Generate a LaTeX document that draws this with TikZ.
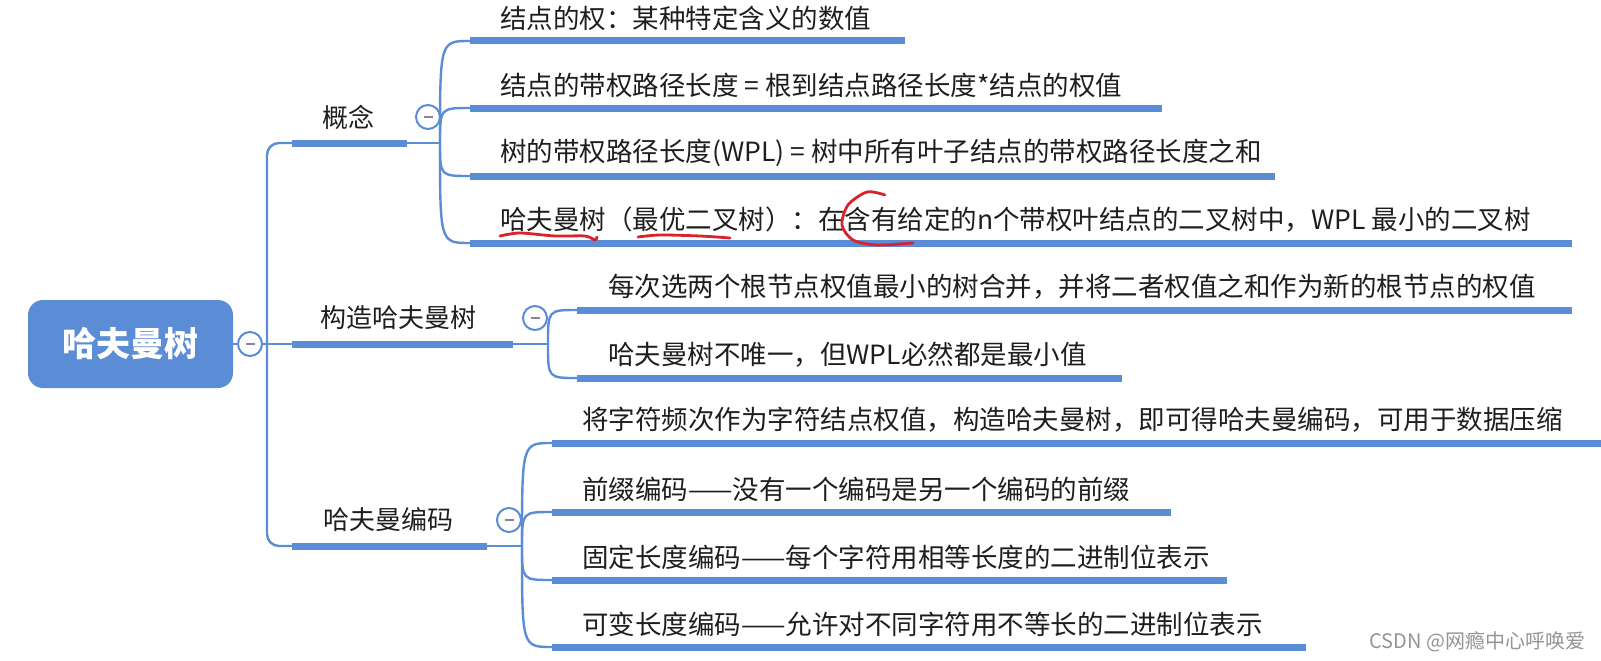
\documentclass[tikz,border=0pt]{standalone}
\usepackage{fontspec}
\setmainfont{Noto Sans CJK SC}
\usetikzlibrary{positioning, calc}
\definecolor{mapblue}{HTML}{5B8DD6}
\definecolor{inkgray}{HTML}{1E1E1E}
\definecolor{penred}{HTML}{D8232A}
\definecolor{foldmark}{HTML}{8C7FA6}

\begin{document}
\begin{tikzpicture}[x=1pt, y=-1pt,
    font=\fontsize{26.5}{30}\selectfont, text=inkgray,
    root/.style={rounded corners=15pt, fill=mapblue, text=white, minimum width=205pt,
                 minimum height=88pt, font=\fontsize{34}{36}\selectfont\bfseries},
    topic/.style={anchor=west, inner sep=0pt, font=\fontsize{26}{30}\selectfont},
    leaf/.style={anchor=west, inner sep=0pt},
    bar/.style={draw=mapblue, line width=7pt},
    link/.style={draw=mapblue, line width=2.4pt},
    fold/.style={circle, draw=mapblue, fill=white, line width=2pt, minimum size=24pt, inner sep=0pt,
                 path picture={\draw[foldmark, line width=2.2pt]
                   ([xshift=-4.5pt]path picture bounding box.center) -- ([xshift=4.5pt]path picture bounding box.center);}},
    pen/.style={draw=penred, line width=2.8pt, line cap=round, line join=round}
]
\useasboundingbox (0,0) rectangle (1601,661);

% root and trunk
\node[root] (huff) at (130.5,344) {哈夫曼树};
\node[fold] (f0) at (250,344) {};
\coordinate (tk) at (267,344);
\draw[link] (huff.east) -- (f0);
\draw[link] (f0) -- (tk);

% main branches
\coordinate (As) at (292,143); \coordinate (Ae) at (407,143); \coordinate (Ab) at (440,143);
\coordinate (Bs) at (292,344); \coordinate (Be) at (513,344); \coordinate (Bb) at (548,344);
\coordinate (Cs) at (292,546); \coordinate (Ce) at (487,546); \coordinate (Cb) at (522,546);
\draw[link, rounded corners=12pt] (As) -| (tk) |- (Cs);
\draw[link] (tk) -- (Bs);
\foreach \a in {A, B, C}{
  \draw[bar] (\a s) -- (\a e);
  \draw[link] (\a e) -- (\a b);
}
\node[topic] (tA) at (322,117) {概念};
\node[topic] (tB) at (320,318) {构造哈夫曼树};
\node[topic] (tC) at (323,520) {哈夫曼编码};
\node[fold] (fA) at (428,117) {};
\node[fold] (fB) at (535,318) {};
\node[fold] (fC) at (509,520) {};

% leaves
\foreach \n/\br/\sx/\tx/\ex/\y/\txt in {
  a1/Ab/470/500/905/41/{结点的权：某种特定含义的数值},
  a2/Ab/470/500/1162/108/{结点的带权路径长度 = 根到结点路径长度*结点的权值},
  a3/Ab/470/500/1275/176/{树的带权路径长度(WPL) = 树中所有叶子结点的带权路径长度之和},
  a4/Ab/470/500/1572/243/{哈夫曼树（最优二叉树）：在含有给定的n个带权叶结点的二叉树中，WPL 最小的二叉树},
  b1/Bb/577/608/1572/310/{每次选两个根节点权值最小的树合并，并将二者权值之和作为新的根节点的权值},
  b2/Bb/577/608/1122/378/{哈夫曼树不唯一，但WPL必然都是最小值},
  c1/Cb/552/582/1610/443/{将字符频次作为字符结点权值，构造哈夫曼树，即可得哈夫曼编码，可用于数据压缩},
  c2/Cb/552/582/1171/512/{前缀编码——没有一个编码是另一个编码的前缀},
  c3/Cb/552/582/1227/580/{固定长度编码——每个字符用相等长度的二进制位表示},
  c4/Cb/552/582/1306/647/{可变长度编码——允许对不同字符用不等长的二进制位表示}}{
  \coordinate (\n s) at (\sx,\y);
  \coordinate (\n e) at (\ex,\y);
  \draw[link] (\br) .. controls (\br |- \n s) .. (\n s);
  \draw[bar] (\n s) -- (\n e);
  \node[leaf] (\n) at (\tx,\y-23) {\txt};
}

% red pen marks
\draw[pen] plot[smooth] coordinates {(500,236) (520,233) (555,236) (585,236) (595,240) (597,237)};
\draw[pen] plot[smooth] coordinates {(638,237) (660,235) (700,236) (730,238)};
\draw[pen] plot[smooth] coordinates {(885,195) (867,192) (848,205) (842,225) (853,240) (877,245) (913,243)};

\node[anchor=east, text=black!42, font=\fontsize{20}{22}\selectfont] (mark) at (1589,642) {CSDN @网瘾中心呼唤爱};
\end{tikzpicture}
\end{document}
